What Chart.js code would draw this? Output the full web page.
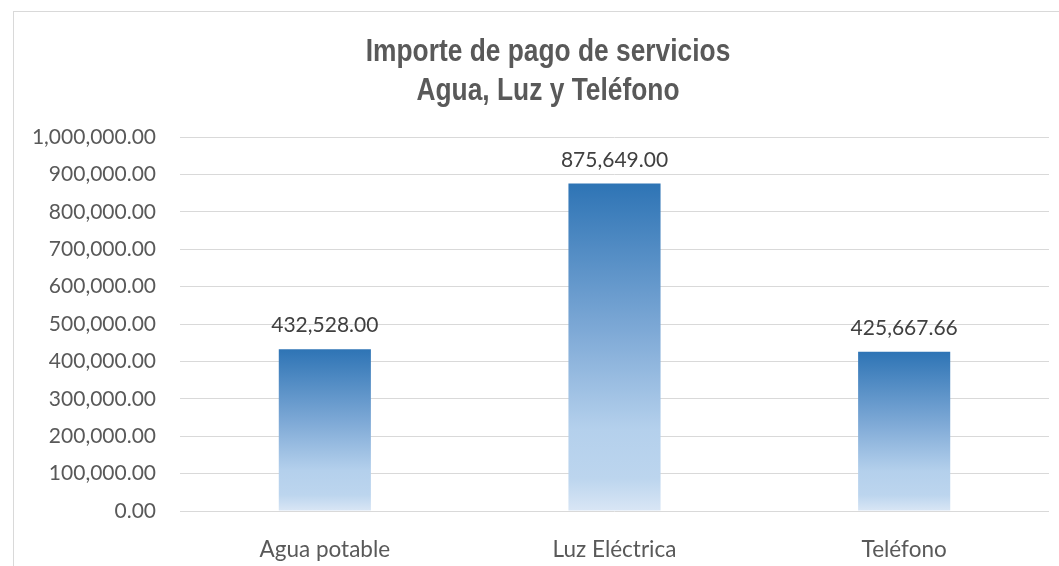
<!DOCTYPE html>
<html lang="es">
<head>
<meta charset="UTF-8">
<title>Importe de pago de servicios</title>
<script src="https://cdn.jsdelivr.net/npm/chart.js"></script>
<style>
    html, body {
        margin: 0;
        padding: 0;
        background: #ffffff;
        overflow: hidden;
        width: 1059px;
        height: 566px;
    }
    .frame {
        position: absolute;
        left: 13px;
        top: 11px;
        width: 1080px;
        height: 600px;
        border: 1px solid #d9d9d9;
        background: #fff;
    }
    #chart {
        position: absolute;
        left: 0;
        top: 0;
    }
</style>
</head>
<body>
<div class="frame">
    <canvas id="chart" width="1068" height="578"></canvas>
</div>
<script>
    const categories = ['Agua potable', 'Luz Eléctrica', 'Teléfono'];
    const importes = [432528.00, 875649.00, 425667.66];
    const titleLines = ['Importe de pago de servicios', 'Agua, Luz y Teléfono'];

    const fmt = v => v.toLocaleString('en-US', {minimumFractionDigits: 2, maximumFractionDigits: 2});

    // bar gradient, dark on top, light at the base (like Excel's preset)
    function barFill(ctx) {
        const chart = ctx.chart;
        if (!chart.chartArea) return '#2e75b6';
        const y = chart.scales.y;
        const top = y.getPixelForValue(ctx.raw);
        const bot = y.getPixelForValue(0);
        const g = chart.ctx.createLinearGradient(0, top, 0, bot);
        g.addColorStop(0, '#2e74b5');
        g.addColorStop(0.45, '#7ea9d6');
        g.addColorStop(0.75, '#b4d0ec');
        g.addColorStop(0.9, '#bcd5ee');
        g.addColorStop(1, '#d9e6f5');
        return g;
    }

    const valueLabels = {
        id: 'valueLabels',
        afterDatasetsDraw(chart) {
            const c = chart.ctx;
            c.save();
            c.font = '21px Lato, "Open Sans", sans-serif';
            c.fillStyle = '#404040';
            c.textAlign = 'center';
            c.textBaseline = 'alphabetic';
            chart.getDatasetMeta(0).data.forEach((bar, i) => {
                c.fillText(fmt(importes[i]), bar.x, bar.y - 17);
            });
            c.restore();
        }
    };

    // no narrow font installed, so squeeze the bold title a bit
    const narrowTitle = {
        id: 'narrowTitle',
        afterDraw(chart) {
            const c = chart.ctx;
            c.save();
            c.font = 'bold 31px "Liberation Sans", Arial, sans-serif';
            c.fillStyle = '#595959';
            c.textAlign = 'center';
            c.textBaseline = 'alphabetic';
            c.translate(534, 0);
            c.scale(0.85, 1);
            c.fillText(titleLines[0], 0, 49);
            c.fillText(titleLines[1], 0, 88);
            c.restore();
        }
    };

    new Chart(document.getElementById('chart'), {
        type: 'bar',
        data: {
            labels: categories,
            datasets: [{
                data: importes,
                backgroundColor: barFill,
                borderWidth: 0,
                categoryPercentage: 1,
                barPercentage: 0.318
            }]
        },
        options: {
            responsive: false,
            animation: false,
            layout: {
                padding: {left: 0, right: 33, top: 125, bottom: 0}
            },
            plugins: {
                legend: {display: false},
                tooltip: {enabled: false},
                title: {display: false}
            },
            scales: {
                x: {
                    grid: {display: false},
                    border: {display: false},
                    ticks: {
                        color: '#595959',
                        font: {family: 'Lato, "Open Sans", sans-serif', size: 22.5},
                        padding: 17
                    },
                    afterFit(axis) { axis.height = 79; }
                },
                y: {
                    min: 0,
                    max: 1000000,
                    grid: {color: '#d9d9d9', lineWidth: 1, drawTicks: false},
                    border: {display: false},
                    ticks: {
                        stepSize: 100000,
                        color: '#595959',
                        font: {family: 'Lato, "Open Sans", sans-serif', size: 21},
                        padding: 24,
                        callback: v => fmt(v)
                    },
                    afterFit(axis) { axis.width = 166; }
                }
            }
        },
        plugins: [valueLabels, narrowTitle]
    });
</script>
</body>
</html>
